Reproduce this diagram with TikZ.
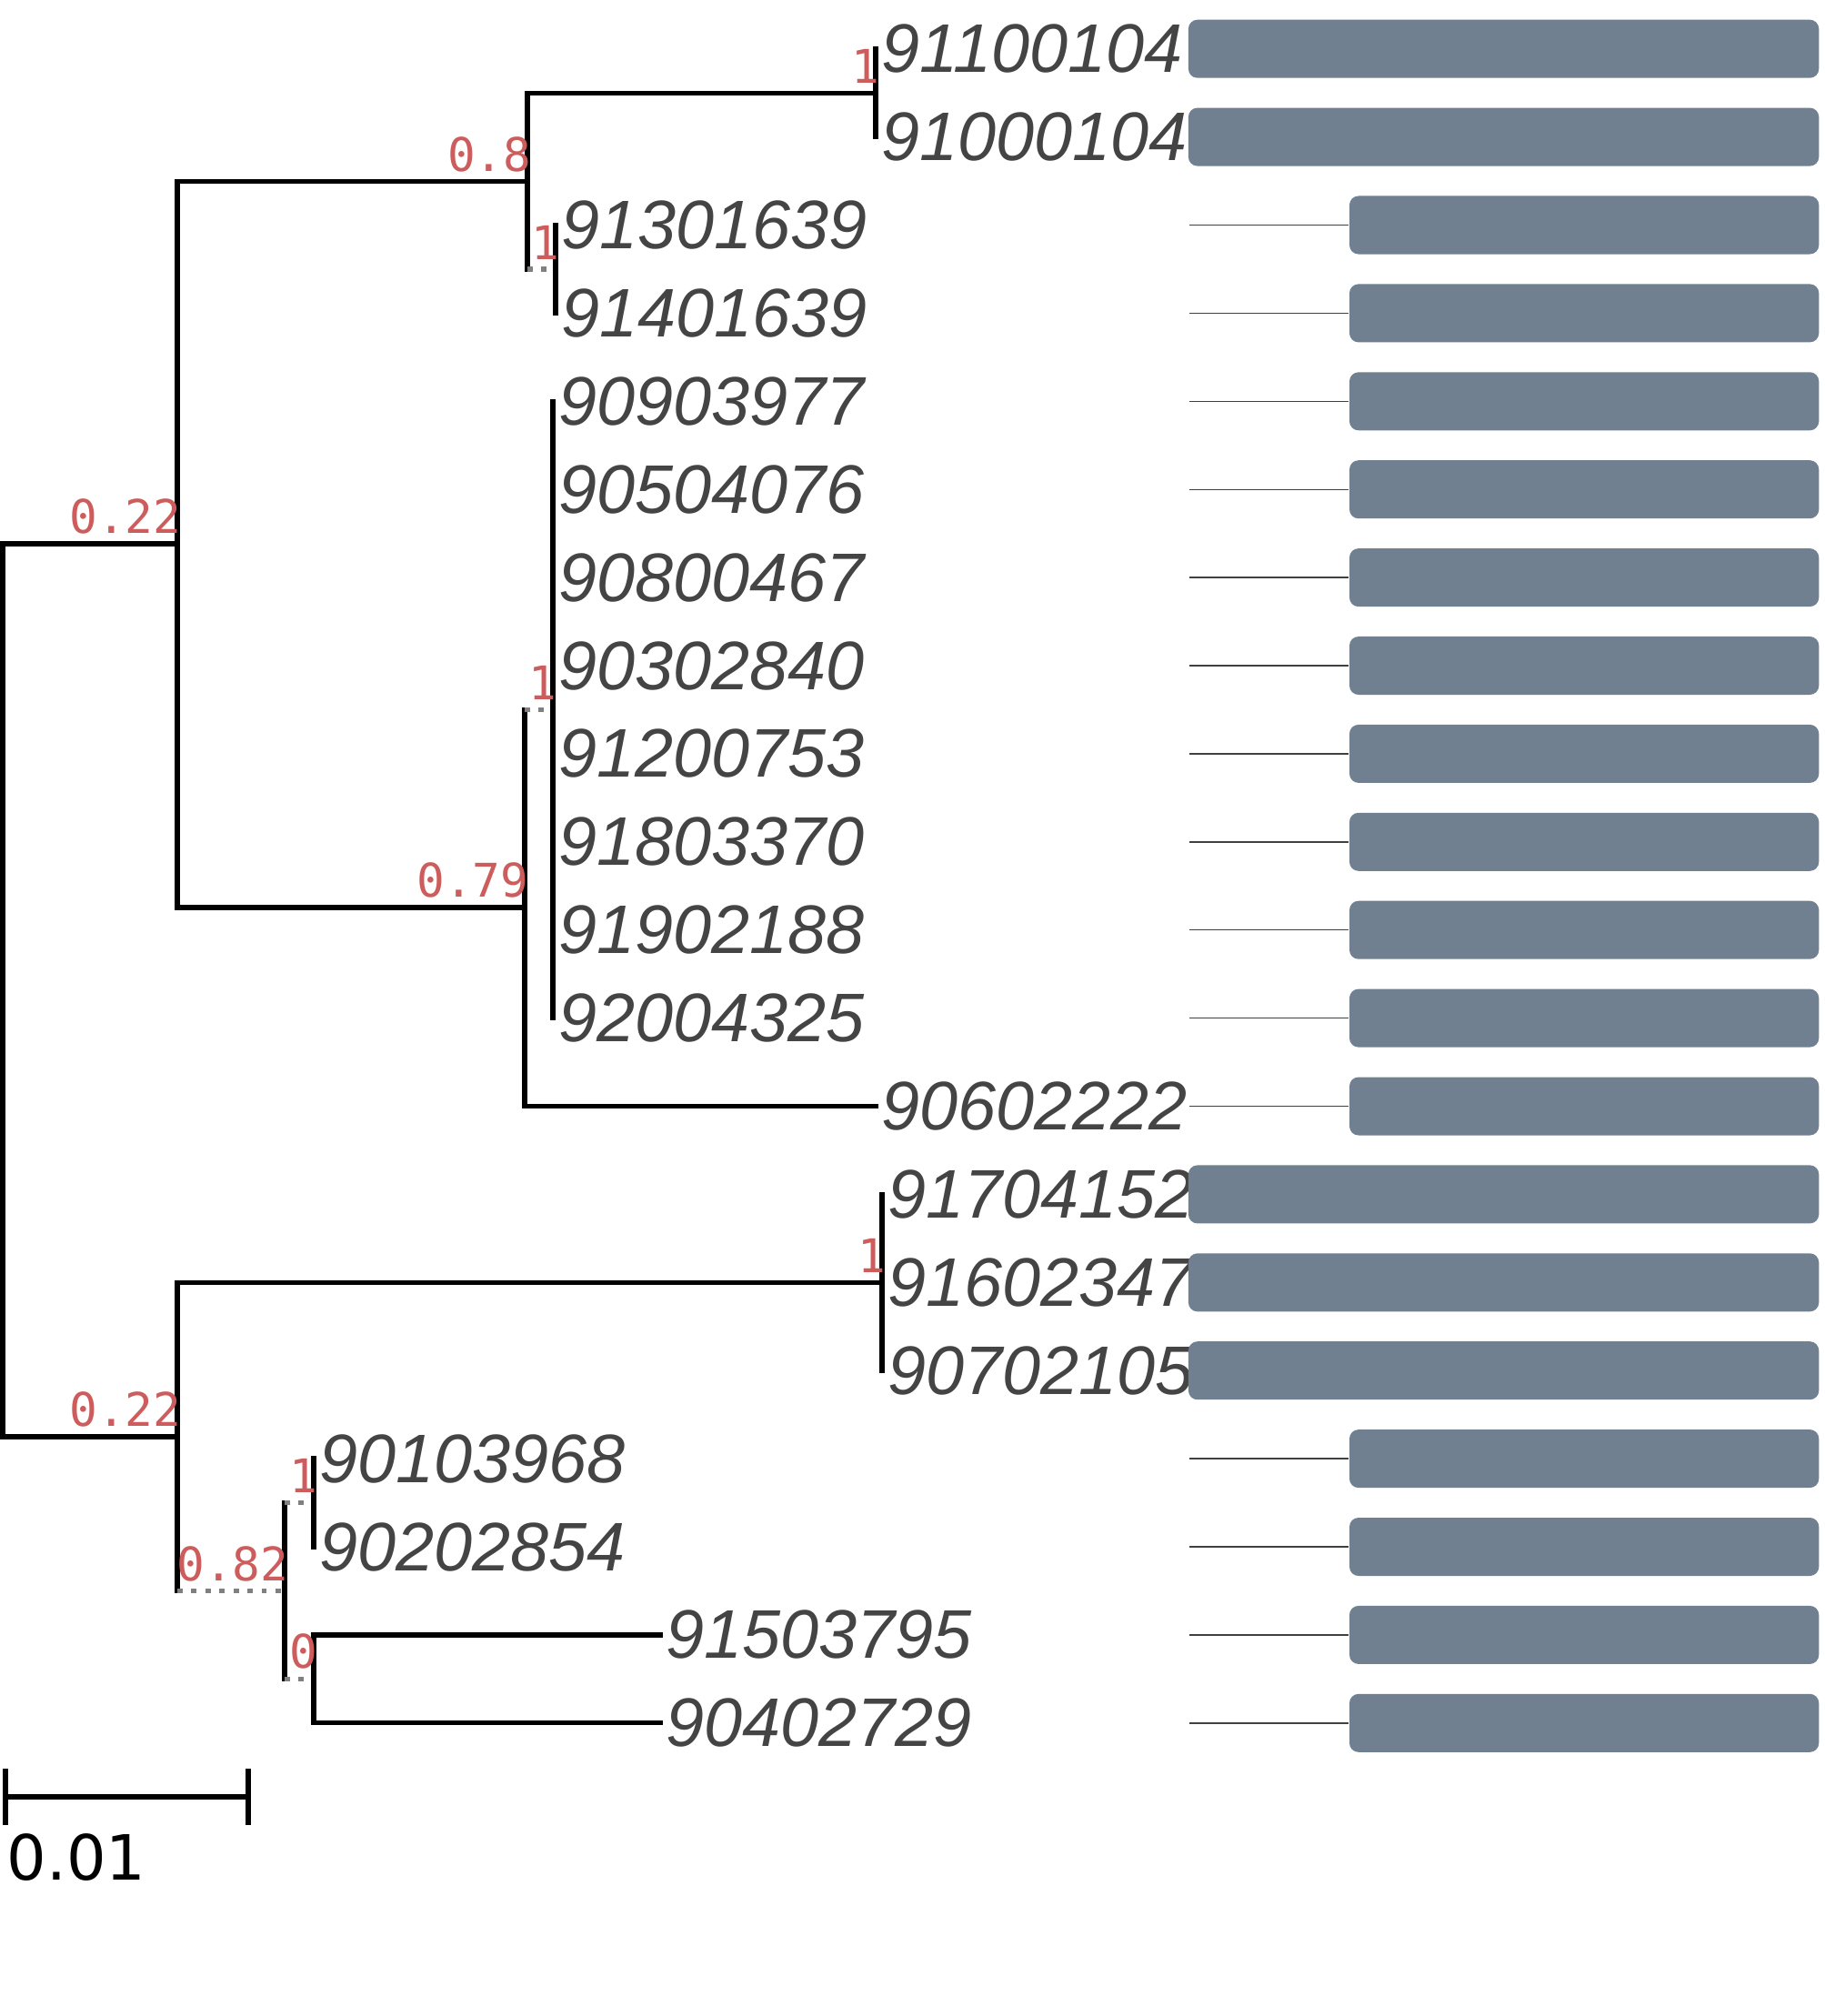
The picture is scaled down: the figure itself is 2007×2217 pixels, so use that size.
\documentclass[tikz,border=0pt]{standalone}
\usepackage{fontspec}
\setmainfont{Liberation Sans}
\newfontfamily\suppfont{DejaVu Sans Mono}
\newfontfamily\legendfont{DejaVu Sans}
\usepackage{xcolor}
\usetikzlibrary{positioning}

\definecolor{barcol}{RGB}{112,128,144}
\definecolor{suppred}{RGB}{205,92,92}
\definecolor{leafgray}{RGB}{68,68,68}

\tikzset{
  branch/.style={line width=1.5pt, line cap=rect},
  weak/.style={line width=1.5pt, gray, dash pattern=on 1.6pt off 2.8pt},
  leaf/.style={inner sep=0pt, text=leafgray, font=\fontsize{21.5}{21.5}\selectfont\itshape},
  supp/.style={inner sep=0pt, text=suppred, font=\suppfont\fontsize{14.5}{14.5}\selectfont},
  barlong/.style={rectangle, fill=barcol, inner sep=0pt, minimum width=6.93cm, minimum height=0.64cm, rounded corners=0.1cm, anchor=east},
  barshort/.style={barlong, minimum width=5.16cm},
  guide/.style={line width=0.4pt, black!75}
}

\begin{document}
\begin{tikzpicture}[x=0.01cm,y=-0.01cm]
  \useasboundingbox (0,0) rectangle (2007,2217);

  % inner nodes of the tree
  \coordinate (root) at (3,1089);
  \coordinate (nA) at (195,598);
  \coordinate (nB) at (580,199.5);
  \coordinate (nC) at (963,102.2);
  \coordinate (nD) at (611,296);
  \coordinate (nE) at (577,998);
  \coordinate (nF) at (608,780.5);
  \coordinate (nG) at (195,1580);
  \coordinate (nH) at (970,1410.3);
  \coordinate (nI) at (313,1749.5);
  \coordinate (nJ) at (345,1652.5);
  \coordinate (nK) at (345,1846.3);

  % leaves: name / row / tip x
  \foreach \id/\r/\tx in {91100104/0/963, 91000104/1/963, 91301639/2/611, 91401639/3/611,
      90903977/4/608, 90504076/5/608, 90800467/6/608, 90302840/7/608, 91200753/8/608,
      91803370/9/608, 91902188/10/608, 92004325/11/608, 90602222/12/963,
      91704152/13/970, 91602347/14/970, 90702105/15/970, 90103968/16/345,
      90202854/17/345, 91503795/18/726, 90402729/19/726} {
    \coordinate (t\id) at (\tx,{53.7+96.9*\r});
    \node[leaf, right=0.06cm of t\id] (l\id) {\id};
  }

  % bars on the right
  \foreach \r in {0,1,13,14,15} {
    \node[barlong] (b\r) at (2001,{53.7+96.9*\r}) {};
  }
  \foreach \r in {2,...,12,16,17,18,19} {
    \node[barshort] (b\r) at (2001,{53.7+96.9*\r}) {};
    \coordinate (g\r) at (1308,{53.7+96.9*\r});
    \draw[guide] (g\r) -- (b\r);
  }

  % upper clade
  \draw[branch] (root) |- (nA);
  \draw[branch] (nA) |- (nB);
  \draw[branch] (nA) |- (nE);
  \draw[branch] (nB) |- (nC);
  \draw[branch] (nB) -- (nB |- nD);
  \draw[weak] (nB |- nD) -- (nD);
  \draw[branch] (nC) |- (t91100104);
  \draw[branch] (nC) |- (t91000104);
  \draw[branch] (nD) |- (t91301639);
  \draw[branch] (nD) |- (t91401639);
  \draw[branch] (nE) -- (nE |- nF);
  \draw[weak] (nE |- nF) -- (nF);
  \draw[branch] (nE) |- (t90602222);
  \foreach \id in {90903977,90504076,90800467,90302840,91200753,91803370,91902188,92004325}
    \draw[branch] (nF) |- (t\id);

  % lower clade
  \draw[branch] (root) |- (nG);
  \draw[branch] (nG) |- (nH);
  \draw[branch] (nG) -- (nG |- nI);
  \draw[weak] (nG |- nI) -- (nI);
  \foreach \id in {91704152,91602347,90702105}
    \draw[branch] (nH) |- (t\id);
  \draw[branch] (nI) -- (nI |- nJ);
  \draw[branch] (nI) -- (nI |- nK);
  \draw[weak] (nI |- nJ) -- (nJ);
  \draw[weak] (nI |- nK) -- (nK);
  \draw[branch] (nJ) |- (t90103968);
  \draw[branch] (nJ) |- (t90202854);
  \draw[branch] (nK) |- (t91503795);
  \draw[branch] (nK) |- (t90402729);

  % support values
  \foreach \n/\v in {nA/0.22, nB/0.8, nC/1, nD/1, nE/0.79, nF/1, nG/0.22, nH/1, nI/0.82, nJ/1, nK/0}
    \node[supp, above left=0.1cm and -0.05cm of \n] (s\n) {\v};

  % scale bar
  \coordinate (sb0) at (6,1976);
  \coordinate (sb1) at (273,1976);
  \draw[branch] (sb0) -- (sb1);
  \draw[branch] (sb0) ++(0,-28) -- ++(0,56);
  \draw[branch] (sb1) ++(0,-28) -- ++(0,56);
  \node[inner sep=0pt, font=\legendfont\fontsize{19.5}{19.5}\selectfont, below right=0.4cm and 0.01cm of sb0] (sbl) {0.01};
\end{tikzpicture}
\end{document}
